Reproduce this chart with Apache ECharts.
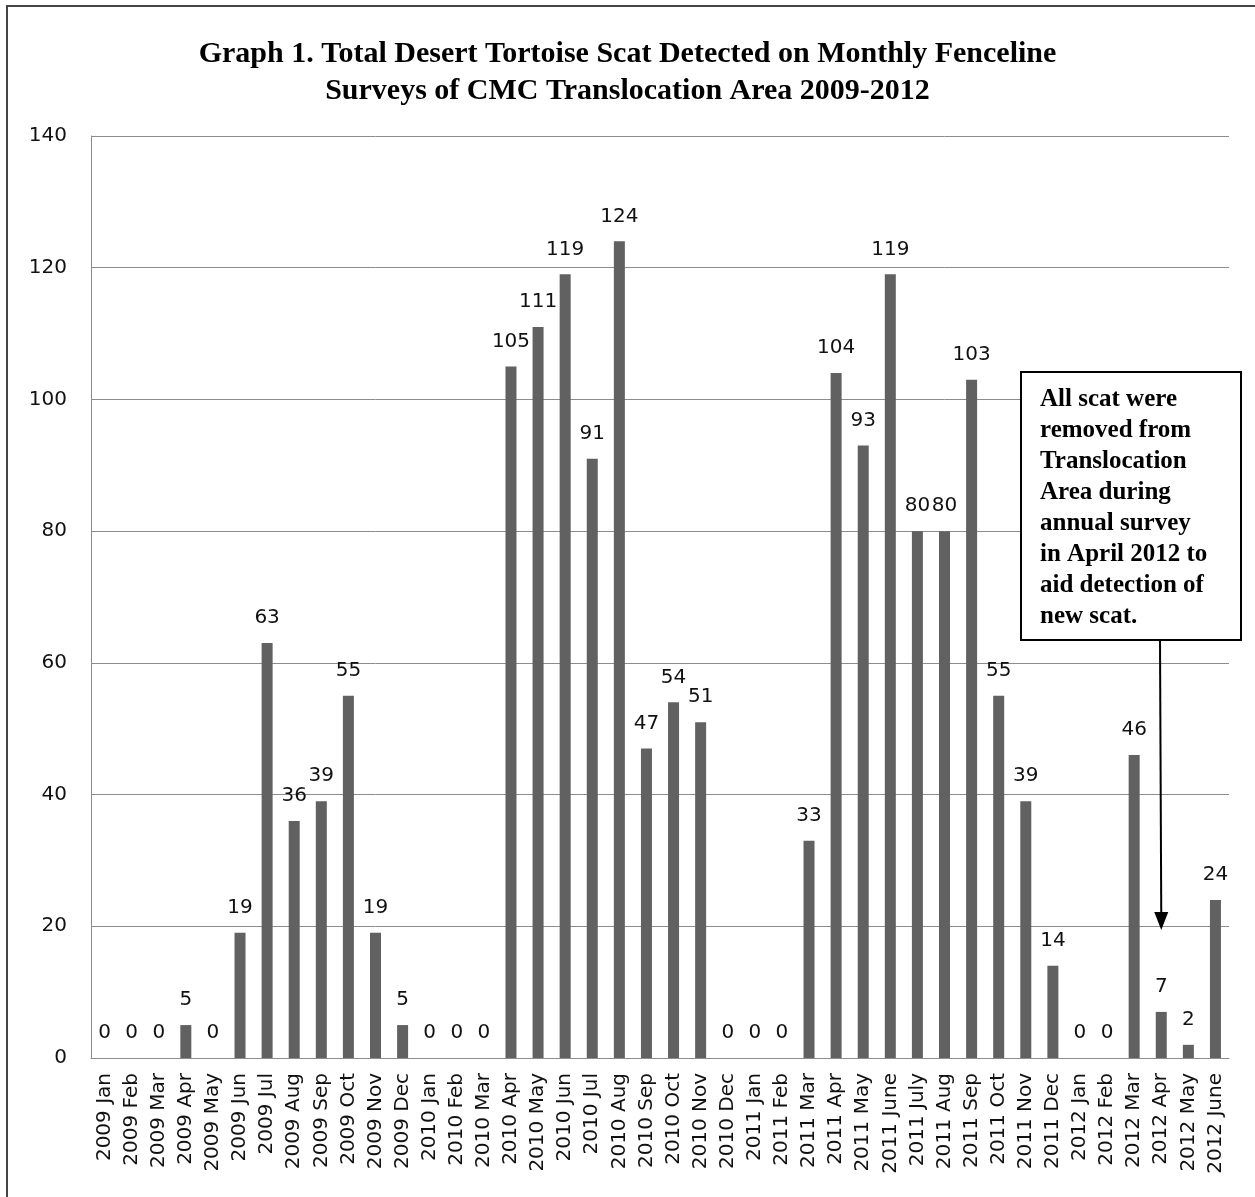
<!DOCTYPE html>
<html>
<head>
<meta charset="utf-8">
<script src="https://cdn.jsdelivr.net/npm/echarts@6/dist/echarts.min.js"></script>
<style>
html,body{margin:0;padding:0;background:#fff;}
#chart{width:1255px;height:1197px;}
</style>
</head>
<body>
<div id="chart"></div>
<script>
const categories = [
  '2009 Jan','2009 Feb','2009 Mar','2009 Apr','2009 May','2009 Jun','2009 Jul','2009 Aug','2009 Sep','2009 Oct','2009 Nov','2009 Dec',
  '2010 Jan','2010 Feb','2010 Mar','2010 Apr','2010 May','2010 Jun','2010 Jul','2010 Aug','2010 Sep','2010 Oct','2010 Nov','2010 Dec',
  '2011 Jan','2011 Feb','2011 Mar','2011 Apr','2011 May','2011 June','2011 July','2011 Aug','2011 Sep','2011 Oct','2011 Nov','2011 Dec',
  '2012 Jan','2012 Feb','2012 Mar','2012 Apr','2012 May','2012 June'
];
const scatCounts = [
  0,0,0,5,0,19,63,36,39,55,19,5,
  0,0,0,105,111,119,91,124,47,54,51,0,
  0,0,33,104,93,119,80,80,103,55,39,14,
  0,0,46,7,2,24
];
const yTicks = [0,20,40,60,80,100,120,140];
const titleLines = [
  'Graph 1. Total Desert Tortoise Scat Detected on Monthly Fenceline',
  'Surveys of CMC Translocation Area 2009-2012'
];
const noteLines = [
  'All scat were','removed from','Translocation','Area during',
  'annual survey','in April 2012 to','aid detection of','new scat.'
];

const chart = echarts.init(document.getElementById('chart'), null, {renderer:'canvas'});
const option = {
  backgroundColor:'#ffffff',
  animation:false,
  title:{
    text: titleLines.join('\n'),
    left:'center', top:31,
    textStyle:{fontFamily:'Liberation Serif', fontWeight:'bold', fontSize:30, lineHeight:37, color:'#000'}
  },
  grid:{left:91, right:26, top:136, bottom:139},
  xAxis:{
    type:'category', data:categories,
    axisLine:{show:true, lineStyle:{color:'#8c8c8c', width:1}},
    axisTick:{show:false},
    axisLabel:{rotate:90, margin:15, interval:0, fontFamily:'DejaVu Sans', fontSize:20, color:'#111'}
  },
  yAxis:{
    type:'value', min:yTicks[0], max:yTicks[yTicks.length-1], interval:20,
    axisLine:{show:true, lineStyle:{color:'#8c8c8c', width:1}},
    axisTick:{show:false},
    axisLabel:{margin:24, fontFamily:'DejaVu Sans', fontSize:20, color:'#111'},
    splitLine:{show:true, lineStyle:{color:'#8c8c8c', width:1}}
  },
  series:[{
    type:'bar', data:scatCounts, barWidth:11,
    itemStyle:{color:'#616161'},
    label:{show:true, position:'top', distance:15, fontFamily:'DejaVu Sans', fontSize:20, color:'#111'}
  }],
  graphic:[]
};
chart.setOption(option);

const ax = chart.convertToPixel({xAxisIndex:0}, '2012 Apr');
const graphics = [
  {type:'rect', shape:{x:7, y:6, width:1300, height:1300}, style:{fill:null, stroke:'#444', lineWidth:2}, z:100},
  {type:'rect', shape:{x:1021, y:372, width:220, height:268}, style:{fill:'#fff', stroke:'#000', lineWidth:2}, z:100},
  {type:'text', x:1040, y:384, style:{text:noteLines.join('\n'), fontFamily:'Liberation Serif', fontWeight:'bold', fontSize:25, lineHeight:31, fill:'#000'}, z:101},
  {type:'line', shape:{x1:1160, y1:640, x2:ax, y2:914}, style:{stroke:'#000', lineWidth:2}, z:100},
  {type:'polygon', shape:{points:[[ax-7,912],[ax+7,912],[ax,930]]}, style:{fill:'#000'}, z:100}
];
chart.setOption({graphic:graphics});
</script>
</body>
</html>
